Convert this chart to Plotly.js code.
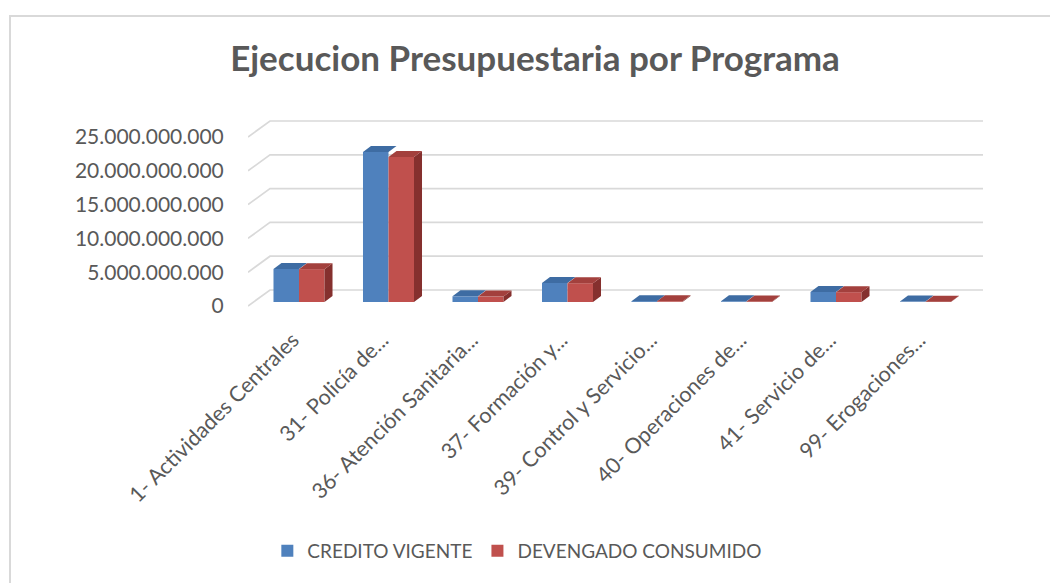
<!DOCTYPE html>
<html>
<head>
<meta charset="utf-8">
<script src="https://cdn.plot.ly/plotly-3.0.1.min.js"></script>
<style>html,body{margin:0;padding:0;background:#fff;}#chart{width:1050px;height:583px;}</style>
</head>
<body>
<div id="chart"></div>
<script>
// ---- data ----
const categories = ["1- Actividades Centrales","31- Policía de...","36- Atención Sanitaria...","37- Formación y...","39- Control y Servicio...","40- Operaciones de...","41- Servicio de...","99- Erogaciones..."];
const creditoVigente = [4.88e9, 22.2e9, 0.84e9, 2.81e9, 0.12e9, 0.10e9, 1.48e9, 0.06e9];
const devengadoConsumido = [4.86e9, 21.45e9, 0.80e9, 2.78e9, 0.10e9, 0.08e9, 1.45e9, 0.05e9];
const yTickValues = [0, 5e9, 10e9, 15e9, 20e9, 25e9];
const yTickLabels = ["0", "5.000.000.000", "10.000.000.000", "15.000.000.000", "20.000.000.000", "25.000.000.000"];
const seriesNames = ["CREDITO VIGENTE", "DEVENGADO CONSUMIDO"];

// ---- styling / pseudo-3D geometry ----
const FONT = "Lato, 'Open Sans', sans-serif";
const TXT = "#595959";
const front = ["#4f81bd", "#c0504d"];
const topc = ["#3e6ca3", "#a3403d"];
const sidec = ["#35609a", "#85302e"];
const xRange = [-0.5698, 7.6425];
const yRange = [-0.888e9, 28.254e9];
const wallDX = 0.2458, wallDY = 2.367e9;   // depth of the wall/floor
const barBase = 0.592e9;                    // bars sit a bit behind front edge
const barW = 0.285;
const topDX = 0.0894, topDY = 0.888e9;      // depth of each bar
const labelShift = 0.07;                    // nudges rotated category labels left

const x = categories.map((c, i) => i);
const seriesVals = [creditoVigente, devengadoConsumido];
const offsets = [-barW, 0];

const traces = [];
// front faces (bars)
seriesVals.forEach((vals, s) => {
  traces.push({
    type: "bar", x: x, y: vals, base: barBase, width: barW, offset: offsets[s],
    name: seriesNames[s], marker: {color: front[s], line: {width: 0}},
    hoverinfo: "skip"
  });
});
// top faces and side faces
seriesVals.forEach((vals, s) => {
  const tx = [], ty = [], sx = [], sy = [];
  vals.forEach((v, i) => {
    const x0 = i + offsets[s], x1 = x0 + barW, yt = barBase + v;
    tx.push(x0, x1, x1 + topDX, x0 + topDX, x0, null);
    ty.push(yt, yt, yt + topDY, yt + topDY, yt, null);
    sx.push(x1, x1, x1 + topDX, x1 + topDX, x1, null);
    sy.push(barBase, yt, yt + topDY, barBase + topDY, barBase, null);
  });
  if (s === 1) {
    traces.push({type: "scatter", mode: "lines", x: sx, y: sy, fill: "toself", fillcolor: sidec[s],
      line: {width: 0, color: sidec[s]}, showlegend: false, hoverinfo: "skip"});
  }
  traces.push({type: "scatter", mode: "lines", x: tx, y: ty, fill: "toself", fillcolor: topc[s],
    line: {width: 0, color: topc[s]}, showlegend: false, hoverinfo: "skip"});
});

// wall gridlines (behind the bars)
const shapes = yTickValues.map(v => ({
  type: "path", xref: "x", yref: "y", layer: "below",
  path: "M" + xRange[0] + "," + v + " L" + (xRange[0] + wallDX) + "," + (v + wallDY) + " L" + xRange[1] + "," + (v + wallDY),
  line: {color: "#d9d9d9", width: 1.7}
}));
// chart frame
shapes.push({type: "rect", xref: "paper", yref: "paper", x0: -0.3238, x1: 1.2, y0: -1.6, y1: 1.5025,
  line: {color: "#d9d9d9", width: 2}, fillcolor: "rgba(0,0,0,0)", layer: "below"});

const layout = {
  width: 1050, height: 583,
  margin: {l: 248, r: 67, t: 115, b: 271, pad: 0},
  paper_bgcolor: "#ffffff", plot_bgcolor: "rgba(0,0,0,0)",
  font: {family: FONT, color: TXT},
  title: {text: "Ejecucion Presupuestaria por Programa", font: {family: FONT, size: 35, color: TXT, weight: "bold"},
    x: 0.5095, xanchor: "center", xref: "container", y: 0.9, yanchor: "middle", yref: "container"},
  barmode: "overlay",
  showlegend: true,
  legend: {orientation: "h", xref: "container", yref: "container", x: 0.4927, xanchor: "center", y: 0.055, yanchor: "middle",
    font: {family: FONT, size: 19, color: TXT}, itemclick: false},
  xaxis: {range: xRange, tickvals: x.map(i => i - labelShift), ticktext: categories, tickangle: -45, showgrid: false, zeroline: false,
    showline: false, ticks: "outside", ticklen: 6, tickcolor: "rgba(0,0,0,0)",
    tickfont: {family: FONT, size: 21.5, color: TXT}, fixedrange: true},
  yaxis: {range: yRange, tickvals: yTickValues, ticktext: yTickLabels, showgrid: false, zeroline: false,
    showline: false, ticks: "outside", ticklen: 19, tickcolor: "rgba(0,0,0,0)",
    tickfont: {family: FONT, size: 21, color: TXT}, fixedrange: true},
  shapes: shapes
};

Plotly.newPlot("chart", traces, layout, {displayModeBar: false, staticPlot: true});
</script>
</body>
</html>
